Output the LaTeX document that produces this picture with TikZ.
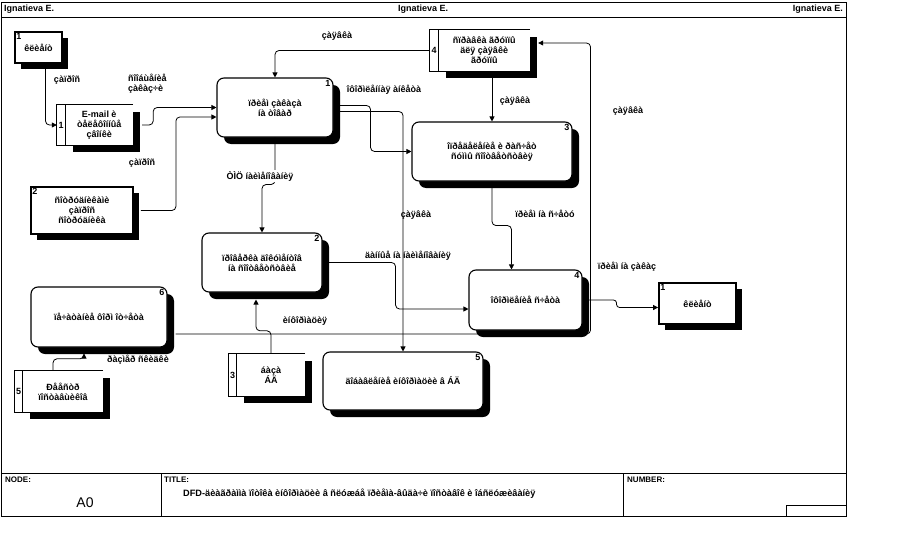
\documentclass[tikz,border=0pt]{standalone}
\usepackage{fontspec}
\setmainfont{Liberation Sans}
\usetikzlibrary{arrows.meta,shadows}
\tikzset{
    every node/.style={font=\fontsize{9}{10}\selectfont\bfseries, inner sep=1pt}
}
\tikzset{
    boxshadow/.style={drop shadow={shadow xshift=#1, shadow yshift=-#1,
        opacity=1, fill=black}},
    proc/.style={draw, line width=1.1pt, fill=white, rounded corners=7pt,
        align=center, boxshadow=7pt},
    ext/.style={draw, line width=1.8pt, fill=white, align=center,
        boxshadow=6pt},
    store/.style={fill=white, align=center, boxshadow=7pt},
    storeline/.style={line width=1pt},
    pnum/.style={anchor=north east, inner sep=3pt},
    enum/.style={anchor=north west, inner sep=2pt},
    foot/.style={font=\fontsize{8}{9}\selectfont\bfseries}
}
\tikzset{
    flow/.style={-{Triangle[length=5pt,width=5pt]}, line width=0.8pt,
        rounded corners=4pt}
}

\begin{document}
\begin{tikzpicture}[x=1pt, y=-1pt]
	\useasboundingbox (0,0) rectangle (919,549);
	% frame
	\draw[line width=0.8pt] (1,2) rectangle (846,516);
	\draw[line width=0.8pt] (1,17) -- (846,17);
	\draw[line width=0.8pt] (1,473) -- (846,473);
	\draw[line width=0.8pt] (161,473) -- (161,516);
	\draw[line width=0.8pt] (623,473) -- (623,516);
	\draw[line width=0.8pt] (786,516) |- (846,505);
	\node (hleft) [anchor=west] at (3,9.5) {Ignatieva E.};
	\node (hmid) [anchor=west] at (397,9.5) {Ignatieva E.};
	\node (hright) [anchor=east] at (844,9.5) {Ignatieva E.};
	\node (nodelbl) [foot, anchor=north west] at (4,476) {NODE:};
	\node (nodeval) [font=\fontsize{14}{16}\selectfont] at (85,503) {A0};
	\node (titlelbl) [foot, anchor=north west] at (163,476) {TITLE:};
	\node (titletext) [anchor=west, font=\fontsize{9.2}{10}\selectfont\bfseries]
		at (182,494) {DFD-äèàãðàììà ïîòîêà èíôîðìàöèè â ñëóæáå ïðèåìà-âûäà÷è ïîñòàâîê è îáñëóæèâàíèÿ};
	\node (numlbl) [foot, anchor=north west] at (626,476) {NUMBER:};

	% processes
	\node (p1) [proc, minimum width=116pt, minimum height=59pt,
		label={[pnum]north east:1}] at (275,107.5) {ïðèåì çàêàçà\\íà òîâàð};
	\node (p2) [proc, minimum width=120pt, minimum height=59pt,
		label={[pnum]north east:2}] at (262,262.5) {ïðîâåðêà äîêóìåíòîâ\\íà ñîîòâåòñòâèå};
	\node (p3) [proc, minimum width=160pt, minimum height=59pt,
		label={[pnum]north east:3}] at (492,151.5) {îïðåäåëåíèå è ðàñ÷åò\\ñóììû ñîîòâåòñòâèÿ};
	\node (p4) [proc, minimum width=113pt, minimum height=60pt,
		label={[pnum]north east:4}] at (525.5,300) {îôîðìëåíèå ñ÷åòà};
	\node (p5) [proc, minimum width=160pt, minimum height=58pt,
		label={[pnum]north east:5}] at (403,381) {äîáàâëåíèå èíôîðìàöèè â ÁÄ};
	\node (p6) [proc, minimum width=136pt, minimum height=60pt,
		label={[pnum]north east:6}] at (99,317) {ïå÷àòàíèå ôîðì îò÷åòà};

	% external entities
	\node (e1a) [ext, minimum width=47pt, minimum height=31pt,
		label={[enum]north west:1}] at (38.5,47.5) {êëèåíò};
	\node (e2) [ext, minimum width=102pt, minimum height=47pt,
		label={[enum]north west:2}] at (82,210.5) {ñîòðóäíèêàìè\\çàïðîñ\\ñîòðóäíèêà};
	\node (e1b) [ext, minimum width=77pt, minimum height=41pt,
		label={[enum]north west:1}] at (697.5,303.5) {êëèåíò};

	% data stores
	\node (s1) [store, minimum width=67.5pt, minimum height=40pt]
		at (99.25,125) {E-mail è\\òåëåôîííûå\\çâîíêè};
	\node (s4) [store, minimum width=91.5pt, minimum height=41pt]
		at (484.25,50.5) {ñïðàâêà ãðóïïû\\äëÿ çàÿâêè\\ãðóïïû};
	\node (s3) [store, minimum width=68pt, minimum height=42pt]
		at (271,375) {áàçà\\ÁÄ};
	\node (s5) [store, minimum width=80pt, minimum height=41pt]
		at (63,391.5) {Ðååñòð\\ïîñòàâùèêîâ};
	\draw[storeline] (s1.north east) -- ([xshift=-8.5pt]s1.north west)
		-- ([xshift=-8.5pt]s1.south west) -- (s1.south east);
	\draw[storeline] (s1.north west) -- (s1.south west);
	\draw[storeline] (s4.north east) -- ([xshift=-8.5pt]s4.north west)
		-- ([xshift=-8.5pt]s4.south west) -- (s4.south east);
	\draw[storeline] (s4.north west) -- (s4.south west);
	\draw[storeline] (s3.north east) -- ([xshift=-8.5pt]s3.north west)
		-- ([xshift=-8.5pt]s3.south west) -- (s3.south east);
	\draw[storeline] (s3.north west) -- (s3.south west);
	\draw[storeline] (s5.north east) -- ([xshift=-8.5pt]s5.north west)
		-- ([xshift=-8.5pt]s5.south west) -- (s5.south east);
	\draw[storeline] (s5.north west) -- (s5.south west);
	\node (s1n) at ([xshift=-4.25pt]s1.west) {1};
	\node (s4n) at ([xshift=-4.25pt]s4.west) {4};
	\node (s3n) at ([xshift=-4.25pt]s3.west) {3};
	\node (s5n) at ([xshift=-4.25pt]s5.west) {5};

	% flows
	\draw[flow] ([xshift=7pt]e1a.south) |- ([xshift=-8.5pt]s1.west);
	\draw[flow] ([xshift=9pt]s1.east) -- ++(11,0) |- (p1.west);
	\draw[flow] ([xshift=7pt]e2.east) -- ++(35,0) |- ([yshift=-9.5pt]p1.west);
	\draw[flow] ([xshift=-8.5pt]s4.west) -| (p1.north);
	\draw[flow] ([xshift=5pt,yshift=2pt]p1.east) -- ++(32,0) |- (p3.west);
	\draw[flow] ([xshift=5pt,yshift=-4pt]p1.east) -| (p5.north);
	\draw[flow] (p1.south) -- ++(0,47) -| (p2.north);
	\draw[flow] (s4.south -| p3.north) -- (p3.north);
	\draw[flow] (p3.south) -- ++(0,44) -| ([xshift=-14pt]p4.north);
	\draw[flow] ([xshift=5pt]p2.east) -- ++(68,0) |- ([yshift=-9pt]p4.west);
	\draw[flow, rounded corners=3pt] ([xshift=6pt]p4.east) -- ++(28,0)
		|- ([yshift=-4pt]e1b.west);
	\draw[flow] ([xshift=8pt,yshift=-17pt]p6.east) -- ++(415,0)
		|- ([xshift=8pt,yshift=7.5pt]s4.east);
	\draw[flow] (s3.north) -- ++(0,-23) -| ([xshift=-6pt,yshift=-7pt]p2.south);
	\draw[flow] ([xshift=-10pt]s5.north) -- ++(0,-12)
		-| ([xshift=-15pt,yshift=-6pt]p6.south);

	% flow labels
	\node (l1) at (67,80) {çàïðîñ};
	\node (l2) [anchor=north west, align=left] at (127,73) {ñîîáùåíèå\\çàêàç÷è};
	\node (l3) at (142,163) {çàïðîñ};
	\node (l4) at (337,36) {çàÿâêà};
	\node (l5) at (384,90) {îôîðìëåííàÿ àíêåòà};
	\node (l6) at (515,101) {çàÿâêà};
	\node (l7) at (628,111) {çàÿâêà};
	\node (l8) [fill=white] at (260,176) {ÒÌÖ íàèìåíîâàíèÿ};
	\node (l9) at (416,215) {çàÿâêà};
	\node (l10) at (545,214) {ïðèåì íà ñ÷åòó};
	\node (l11) at (408,256) {äàííûå íà íàèìåíîâàíèÿ};
	\node (l12) at (627,267) {ïðèåì íà çàêàç};
	\node (l13) at (305,321) {èíôîðìàöèÿ};
	\node (l14) at (138,360) {ðàçìåð ñêèäêè};
\end{tikzpicture}
\end{document}
